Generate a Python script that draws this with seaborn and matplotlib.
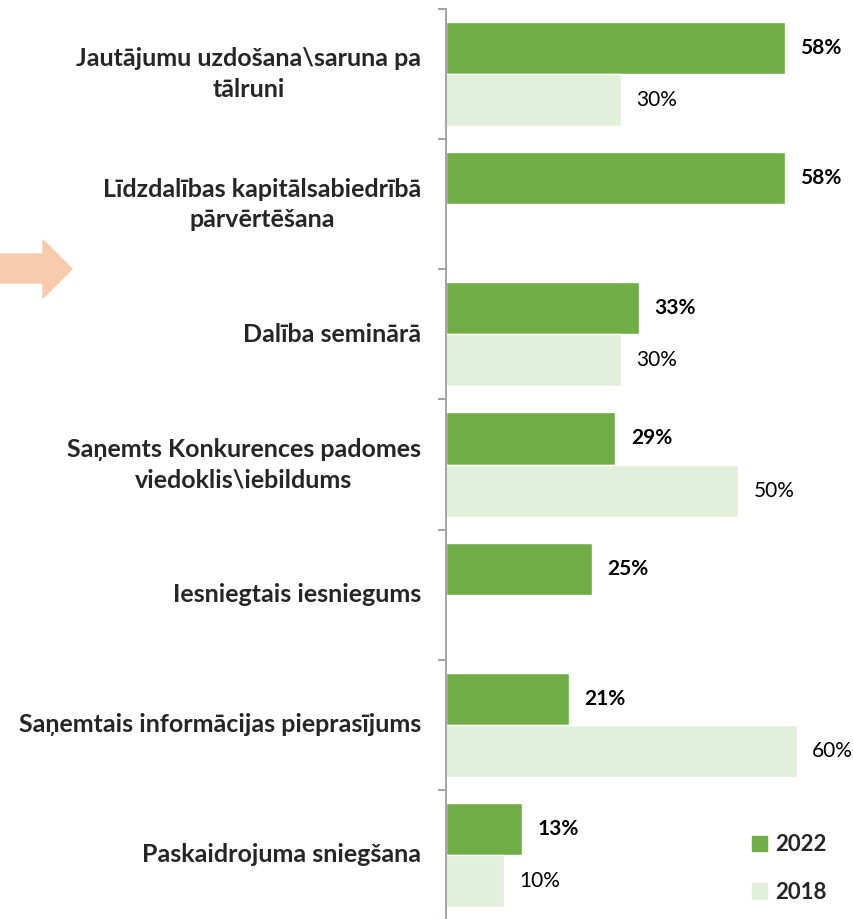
import pandas as pd
import numpy as np
import matplotlib.pyplot as plt
import matplotlib.patches as mpatches
import seaborn as sns

categories = ["Jautājumu uzdošana\\saruna pa\ntālruni",
              "Līdzdalības kapitālsabiedrībā\npārvērtēšana",
              "Dalība seminārā",
              "Saņemts Konkurences padomes\nviedoklis\\iebildums",
              "Iesniegtais iesniegums",
              "Saņemtais informācijas pieprasījums",
              "Paskaidrojuma sniegšana"]
vals_2022 = [58, 58, 33, 29, 25, 21, 13]
vals_2018 = [30, np.nan, 30, 50, np.nan, 60, 10]
years = ["2022", "2018"]
colors = {"2022": "#70AD47", "2018": "#E2EFDA"}

df = pd.DataFrame({"cat": categories * 2,
                   "year": ["2022"] * 7 + ["2018"] * 7,
                   "val": vals_2022 + vals_2018})

sns.set_style("white")
plt.rcParams['font.family'] = ['Lato', 'DejaVu Sans']

fig = plt.figure(figsize=(8.54, 9.19), dpi=100)
ax = fig.add_axes([0.5222, -0.0011, 0.4778, 0.9913])

sns.barplot(data=df, y="cat", x="val", hue="year", hue_order=years,
            order=categories, palette=colors, width=0.8, ax=ax,
            saturation=1, legend=False, orient="h")

for cont, yr in zip(ax.containers, years):
    ax.bar_label(cont, fmt="%.0f%%", padding=11, fontsize=15,
                 fontweight="bold" if yr == "2022" else "normal",
                 color="black")

ax.set_xlim(0, 69.8)
ax.set_ylim(6.5, -0.5)
ax.set_xlabel("")
ax.set_ylabel("")
ax.set_xticks([])
for s in ["top", "right", "bottom"]:
    ax.spines[s].set_visible(False)
ax.spines["left"].set_color("#A6A6A6")
ax.spines["left"].set_linewidth(1.5)

ax.set_yticks(range(len(categories)))
ax.set_yticklabels(categories, fontsize=18, fontweight="bold", ha="right",
                   va="center", multialignment="center", linespacing=1.38)
ax.tick_params(axis="y", which="major", left=False, length=0, pad=18)
ax.set_yticks(np.arange(-0.5, 7, 1), minor=True)
ax.tick_params(axis="y", which="minor", left=True, length=6, width=1.5,
               color="#A6A6A6", direction="out")

handles = [mpatches.Patch(color=colors[y], label=y) for y in years]
leg = fig.legend(handles=handles, loc="upper left", bbox_to_anchor=(0.857, 0.114),
                 frameon=False, fontsize=16,
                 handlelength=0.7, handleheight=0.7, labelspacing=1.2,
                 handletextpad=0.35)
for t in leg.get_texts():
    t.set_fontweight("bold")

# decorative arrow on the left
pts = [(0, 283), (43, 283), (43, 298), (72, 269), (43, 240), (43, 254), (0, 254)]
arrow = mpatches.Polygon([(x / 854, 1 - y / 919) for x, y in pts], closed=True,
                         transform=fig.transFigure, color="#F8CBAD")
fig.patches.append(arrow)

fig.savefig("out.png", dpi=100)
